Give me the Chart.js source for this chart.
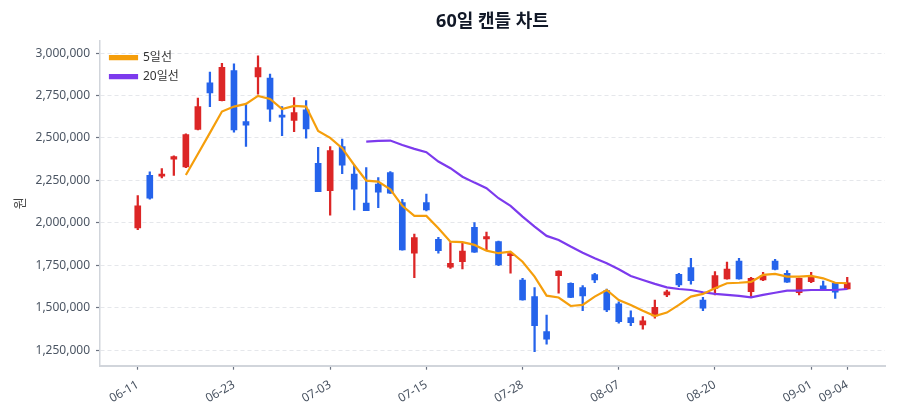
<!DOCTYPE html>
<html>
<head>
<meta charset="utf-8">
<title>60일 캔들 차트</title>
<script src="https://cdn.jsdelivr.net/npm/chart.js@4.4.1/dist/chart.umd.min.js"></script>
<style>
  html, body { margin: 0; padding: 0; background: #ffffff; }
  #wrap { width: 900px; height: 420px; }
</style>
</head>
<body>
<div id="wrap"><canvas id="myChart" width="900" height="420"></canvas></div>
<script>
// trading days (MM-DD)
var dates = [
  '06-11', '06-12', '06-13', '06-16', '06-17', '06-18', '06-19', '06-20', '06-23', '06-24',
  '06-25', '06-26', '06-27', '06-30', '07-01', '07-02', '07-03', '07-04', '07-07', '07-08',
  '07-09', '07-10', '07-11', '07-14', '07-15', '07-16', '07-17', '07-18', '07-21', '07-22',
  '07-23', '07-24', '07-28', '07-29', '07-30', '07-31', '08-01', '08-04', '08-05', '08-06',
  '08-07', '08-08', '08-11', '08-12', '08-13', '08-14', '08-18', '08-19', '08-20', '08-21',
  '08-22', '08-25', '08-26', '08-27', '08-28', '08-29', '09-01', '09-02', '09-03', '09-04'
];

var opens = [
  1970000, 2280000, 2275000, 2375000, 2330000, 2550000, 2825000, 2720000, 2897000, 2597000,
  2860000, 2853000, 2634000, 2603000, 2666000, 2350000, 2190000, 2449000, 2288000, 2116000,
  2229000, 2296000, 2119000, 1821000, 2119000, 1903000, 1738000, 1771000, 1974000, 1905000,
  1889000, 1807000, 1663000, 1565000, 1359000, 1689000, 1644000, 1618000, 1695000, 1600000,
  1522000, 1441000, 1398000, 1451000, 1575000, 1697000, 1736000, 1545000, 1614000, 1669000,
  1775000, 1594000, 1663000, 1775000, 1703000, 1589000, 1653000, 1628000, 1644000, 1610000
];
var highs = [
  2160000, 2300000, 2320000, 2395000, 2525000, 2735000, 2888000, 2940000, 2937000, 2705000,
  2984000, 2876000, 2685000, 2738000, 2720000, 2445000, 2449000, 2494000, 2341000, 2325000,
  2266000, 2302000, 2139000, 1933000, 2169000, 1915000, 1883000, 1880000, 2001000, 1945000,
  1893000, 1817000, 1673000, 1618000, 1457000, 1717000, 1646000, 1630000, 1703000, 1609000,
  1535000, 1482000, 1447000, 1545000, 1604000, 1703000, 1791000, 1561000, 1712000, 1768000,
  1791000, 1679000, 1709000, 1785000, 1718000, 1674000, 1709000, 1657000, 1645000, 1679000
];
var lows = [
  1960000, 2140000, 2265000, 2280000, 2325000, 2548000, 2685000, 2718000, 2534000, 2450000,
  2758000, 2597000, 2514000, 2538000, 2499000, 2183000, 2045000, 2290000, 2076000, 2071000,
  2090000, 2174000, 1839000, 1677000, 2070000, 1821000, 1732000, 1728000, 1826000, 1840000,
  1748000, 1703000, 1544000, 1241000, 1285000, 1585000, 1559000, 1482000, 1647000, 1476000,
  1408000, 1394000, 1373000, 1438000, 1565000, 1624000, 1638000, 1482000, 1575000, 1668000,
  1668000, 1565000, 1659000, 1722000, 1649000, 1575000, 1647000, 1604000, 1555000, 1609000
];
var closes = [
  2100000, 2145000, 2287000, 2390000, 2520000, 2685000, 2765000, 2917000, 2548000, 2575000,
  2915000, 2670000, 2623000, 2650000, 2554000, 2184000, 2426000, 2340000, 2198000, 2072000,
  2180000, 2175000, 1840000, 1913000, 2076000, 1836000, 1762000, 1834000, 1827000, 1919000,
  1752000, 1817000, 1545000, 1394000, 1314000, 1716000, 1561000, 1569000, 1663000, 1487000,
  1418000, 1412000, 1423000, 1502000, 1594000, 1634000, 1659000, 1497000, 1689000, 1728000,
  1669000, 1673000, 1687000, 1726000, 1650000, 1673000, 1683000, 1609000, 1591000, 1647000
];

// moving averages as drawn
var ma5 = [
  null, null, null, null, 2282000, 2406000, 2530000, 2656000, 2685000, 2701000,
  2748000, 2730000, 2670000, 2689000, 2685000, 2542000, 2501000, 2440000, 2341000, 2249000,
  2243000, 2198000, 2100000, 2041000, 2041000, 1968000, 1889000, 1886000, 1870000, 1836000,
  1821000, 1830000, 1771000, 1683000, 1571000, 1560000, 1510000, 1516000, 1565000, 1604000,
  1545000, 1516000, 1482000, 1451000, 1471000, 1516000, 1565000, 1581000, 1614000, 1644000,
  1647000, 1652000, 1693000, 1699000, 1683000, 1683000, 1687000, 1673000, 1647000, 1644000
];
var ma20 = [
  null, null, null, null, null, null, null, null, null, null,
  null, null, null, null, null, null, null, null, null, 2479000,
  2483000, 2485000, 2459000, 2436000, 2416000, 2361000, 2322000, 2272000, 2237000, 2204000,
  2145000, 2100000, 2037000, 1978000, 1923000, 1899000, 1860000, 1824000, 1791000, 1762000,
  1726000, 1687000, 1663000, 1640000, 1620000, 1610000, 1604000, 1591000, 1581000, 1575000,
  1569000, 1561000, 1575000, 1588000, 1600000, 1600000, 1604000, 1604000, 1604000, 1610000
];

var tickIdx = [0, 8, 16, 24, 32, 40, 48, 56, 59];
var yTickValues = [1250000, 1500000, 1750000, 2000000, 2250000, 2500000, 2750000, 3000000];

var UP = '#dc2626';
var DOWN = '#2563eb';

function candleColor(ctx) {
  var i = ctx.dataIndex;
  return closes[i] >= opens[i] ? UP : DOWN;
}

function toPoints(arr) {
  return arr.map(function(v, i) { return {x: i, y: v}; });
}

// legend 'chartArea' position keeps top at 0, move it inside the plot
var legendInside = {
  id: 'legendInside',
  afterLayout: function(chart) {
    var lg = chart.legend;
    var h = lg.bottom - lg.top;
    lg.left = chart.chartArea.left + 3;
    lg.top = chart.chartArea.top + 4;
    lg.bottom = lg.top + h;
  }
};

Chart.defaults.font.family = "'Noto Sans', 'Noto Sans CJK KR', sans-serif";

var chart = new Chart(document.getElementById('myChart'), {
  type: 'bar',
  data: {
    datasets: [
      {
        type: 'line',
        label: '5일선',
        data: toPoints(ma5),
        borderColor: '#f59e0b',
        backgroundColor: '#f59e0b',
        borderWidth: 2.2,
        pointRadius: 0,
        order: 0
      },
      {
        type: 'line',
        label: '20일선',
        data: toPoints(ma20),
        borderColor: '#7c3aed',
        backgroundColor: '#7c3aed',
        borderWidth: 2.2,
        pointRadius: 0,
        order: 0
      },
      {
        label: 'body',
        data: opens.map(function(o, i) {
          return {x: i, y: [Math.min(o, closes[i]), Math.max(o, closes[i])]};
        }),
        backgroundColor: candleColor,
        barThickness: 6,
        minBarLength: 2,
        grouped: false,
        order: 1
      },
      {
        label: 'wick',
        data: lows.map(function(l, i) { return {x: i, y: [l, highs[i]]}; }),
        backgroundColor: candleColor,
        barThickness: 1.6,
        grouped: false,
        order: 2
      }
    ]
  },
  plugins: [legendInside],
  options: {
    responsive: false,
    animation: false,
    layout: { padding: { left: 0, right: 15, top: 0, bottom: 0 } },
    plugins: {
      title: {
        display: true,
        text: '60일 캔들 차트',
        fullSize: false,
        color: '#111827',
        font: { size: 18, weight: 'bold' },
        padding: { top: 11, bottom: 8 }
      },
      legend: {
        position: 'chartArea',
        align: 'start',
        labels: {
          boxWidth: 27,
          boxHeight: 3,
          padding: 7,
          color: '#333333',
          font: { size: 12 },
          filter: function(item) { return item.datasetIndex < 2; }
        }
      },
      tooltip: { enabled: false }
    },
    scales: {
      x: {
        type: 'linear',
        offset: false,
        min: -3.14,
        max: 62.14,
        afterBuildTicks: function(scale) {
          scale.ticks = tickIdx.map(function(v) { return {value: v}; });
        },
        afterFit: function(scale) { scale.height = 54.3; },
        ticks: {
          autoSkip: false,
          minRotation: 30,
          maxRotation: 30,
          padding: 8,
          color: '#4b5563',
          font: { size: 12 },
          callback: function(v) { return dates[v]; }
        },
        grid: {
          offset: false,
          drawOnChartArea: false,
          drawTicks: true,
          tickLength: 4,
          tickColor: '#6b7280',
          tickWidth: 1.2
        },
        border: { color: '#d1d5db', width: 2 }
      },
      y: {
        min: 1158000,
        max: 3074000,
        afterBuildTicks: function(scale) {
          scale.ticks = yTickValues.map(function(v) { return {value: v}; });
        },
        afterFit: function(scale) { scale.width = 100; },
        title: {
          display: true,
          text: '원',
          color: '#444444',
          font: { size: 13 },
          padding: { top: 12, bottom: 0 }
        },
        ticks: {
          padding: 6,
          color: '#4b5563',
          font: { size: 12 },
          callback: function(v) { return v.toLocaleString('en-US'); }
        },
        grid: {
          color: '#e5e7eb',
          lineWidth: 1,
          tickLength: 4,
          tickColor: '#6b7280',
          tickWidth: 1.2
        },
        border: { color: '#d1d5db', width: 1.5, dash: [4, 3] }
      }
    }
  }
});
</script>
</body>
</html>
